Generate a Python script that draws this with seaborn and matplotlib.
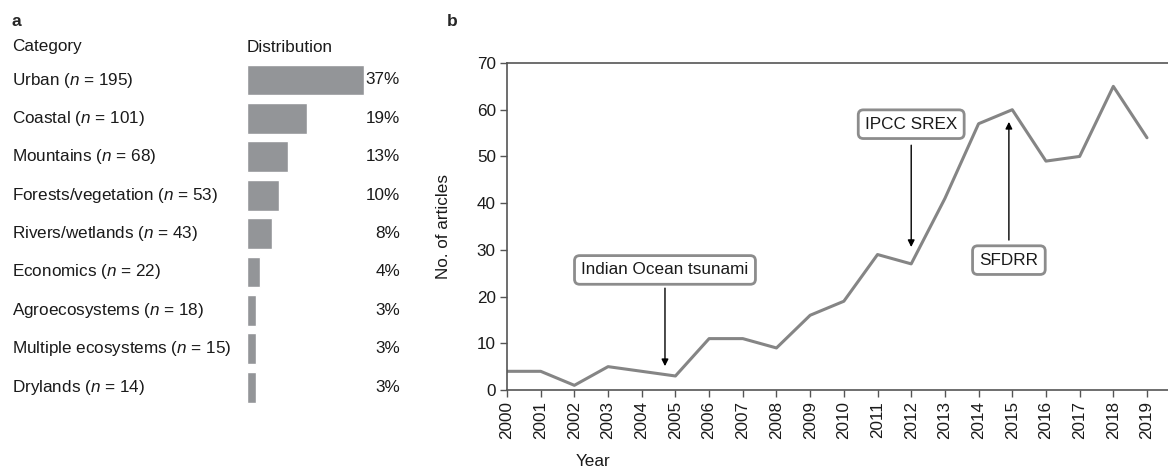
import matplotlib
matplotlib.use("Agg")
import matplotlib.pyplot as plt
import seaborn as sns
import pandas as pd
from matplotlib.transforms import blended_transform_factory

sns.set_theme(style="white")
plt.rcParams['font.family'] = ['Liberation Sans', 'DejaVu Sans']
plt.rcParams['mathtext.fontset'] = 'custom'
plt.rcParams['mathtext.rm'] = 'Liberation Sans'
plt.rcParams['mathtext.it'] = 'Liberation Sans:italic'

# ---- data ----
categories = ["Urban", "Coastal", "Mountains", "Forests/vegetation", "Rivers/wetlands",
              "Economics", "Agroecosystems", "Multiple ecosystems", "Drylands"]
counts_n = [195, 101, 68, 53, 43, 22, 18, 15, 14]
percents = [37, 19, 13, 10, 8, 4, 3, 3, 3]

years = list(range(2000, 2020))
articles = [4, 4, 1, 5, 4, 3, 11, 11, 9, 16, 19, 29, 27, 41, 57, 60, 49, 50, 65, 54]
year_labels = [str(y) for y in years]

W, H = 1168, 471
fig = plt.figure(figsize=(W / 100, H / 100), dpi=100)

BAR_C = "#939598"
LINE_C = "#858585"
SPINE_C = "#555555"
TXT_C = "#1a1a1a"
FS = 12.3

def fx(px):
    return px / W

def fy(py):
    return 1 - py / H

# ---- panel a ----
row = 38.4
top_px = 80 - row / 2
axa = fig.add_axes([fx(247), fy(top_px + 9 * row), fx(143), 9 * row / H])
df_a = pd.DataFrame({"cat": categories, "pct": percents})
sns.barplot(data=df_a, x="pct", y="cat", orient="h", color=BAR_C, width=0.8,
            saturation=1, ax=axa)
axa.set_xlim(0, 37 * 143 / 117)
axa.set_ylim(8.5, -0.5)
axa.axis("off")
trans = blended_transform_factory(fig.transFigure, axa.transData)
for i, (c, n, p) in enumerate(zip(categories, counts_n, percents)):
    axa.text(fx(12), i, f"{c} ($\\it{{n}}$ = {n})", transform=trans, ha="left",
             va="center", fontsize=FS, color=TXT_C)
    axa.text(fx(400), i, f"{p}%", transform=trans, ha="right", va="center",
             fontsize=FS, color=TXT_C)
hdr_y = (47 - 80) / row
axa.text(fx(12), hdr_y, "Category", transform=trans, ha="left", va="center",
         fontsize=FS, color=TXT_C)
axa.text(fx(247), hdr_y, "Distribution", transform=trans, ha="left", va="center",
         fontsize=FS, color=TXT_C)
fig.text(fx(12), fy(21), "a", fontsize=12.5, fontweight="bold", ha="left", va="center")

# ---- panel b ----
axb = fig.add_axes([fx(507), fy(390), fx(661), 327 / H])
df_b = pd.DataFrame({"year": years, "articles": articles})
sns.lineplot(data=df_b, x="year", y="articles", color=LINE_C, linewidth=2.2, ax=axb)
axb.set_xlim(2000, 2019 + 21 / 33.68)
axb.set_ylim(0, 70)
axb.set_yticks(range(0, 71, 10))
axb.set_xticks(years)
axb.set_xticklabels(year_labels, rotation=90)
axb.tick_params(axis="both", labelsize=FS, colors=TXT_C, length=5, width=1,
                color=SPINE_C, direction="out", bottom=True, left=True, pad=3)
for s in ["left", "bottom", "top"]:
    axb.spines[s].set_color(SPINE_C)
    axb.spines[s].set_linewidth(1.2)
axb.spines["right"].set_visible(False)
axb.set_ylabel("No. of articles", fontsize=FS, color=TXT_C)
axb.yaxis.set_label_coords((451 - 507) / 661, 0.5)
axb.set_xlabel("")
fig.text(fx(593), fy(461), "Year", fontsize=FS, color=TXT_C, ha="center", va="center")
fig.text(fx(447), fy(21), "b", fontsize=12.5, fontweight="bold", ha="left", va="center")

box = dict(boxstyle="round,pad=0.4,rounding_size=0.3", fc="white", ec="#8c8c8c", lw=2)
arrow = dict(arrowstyle="-|>", color="black", lw=1, mutation_scale=10, shrinkA=0, shrinkB=0)

axb.text(2004.69, 25.7, "Indian Ocean tsunami", ha="center", va="center",
         fontsize=FS, bbox=box, color=TXT_C)
axb.annotate("", xy=(2004.69, 5.1), xytext=(2004.69, 21.8), arrowprops=arrow)

axb.text(2012.0, 56.9, "IPCC SREX", ha="center", va="center",
         fontsize=FS, bbox=box, color=TXT_C)
axb.annotate("", xy=(2012.0, 30.6), xytext=(2012.0, 52.4), arrowprops=arrow)

axb.text(2014.9, 27.8, "SFDRR", ha="center", va="center",
         fontsize=FS, bbox=box, color=TXT_C)
axb.annotate("", xy=(2014.9, 57.4), xytext=(2014.9, 32.1), arrowprops=arrow)

fig.savefig("out.png", dpi=100)
